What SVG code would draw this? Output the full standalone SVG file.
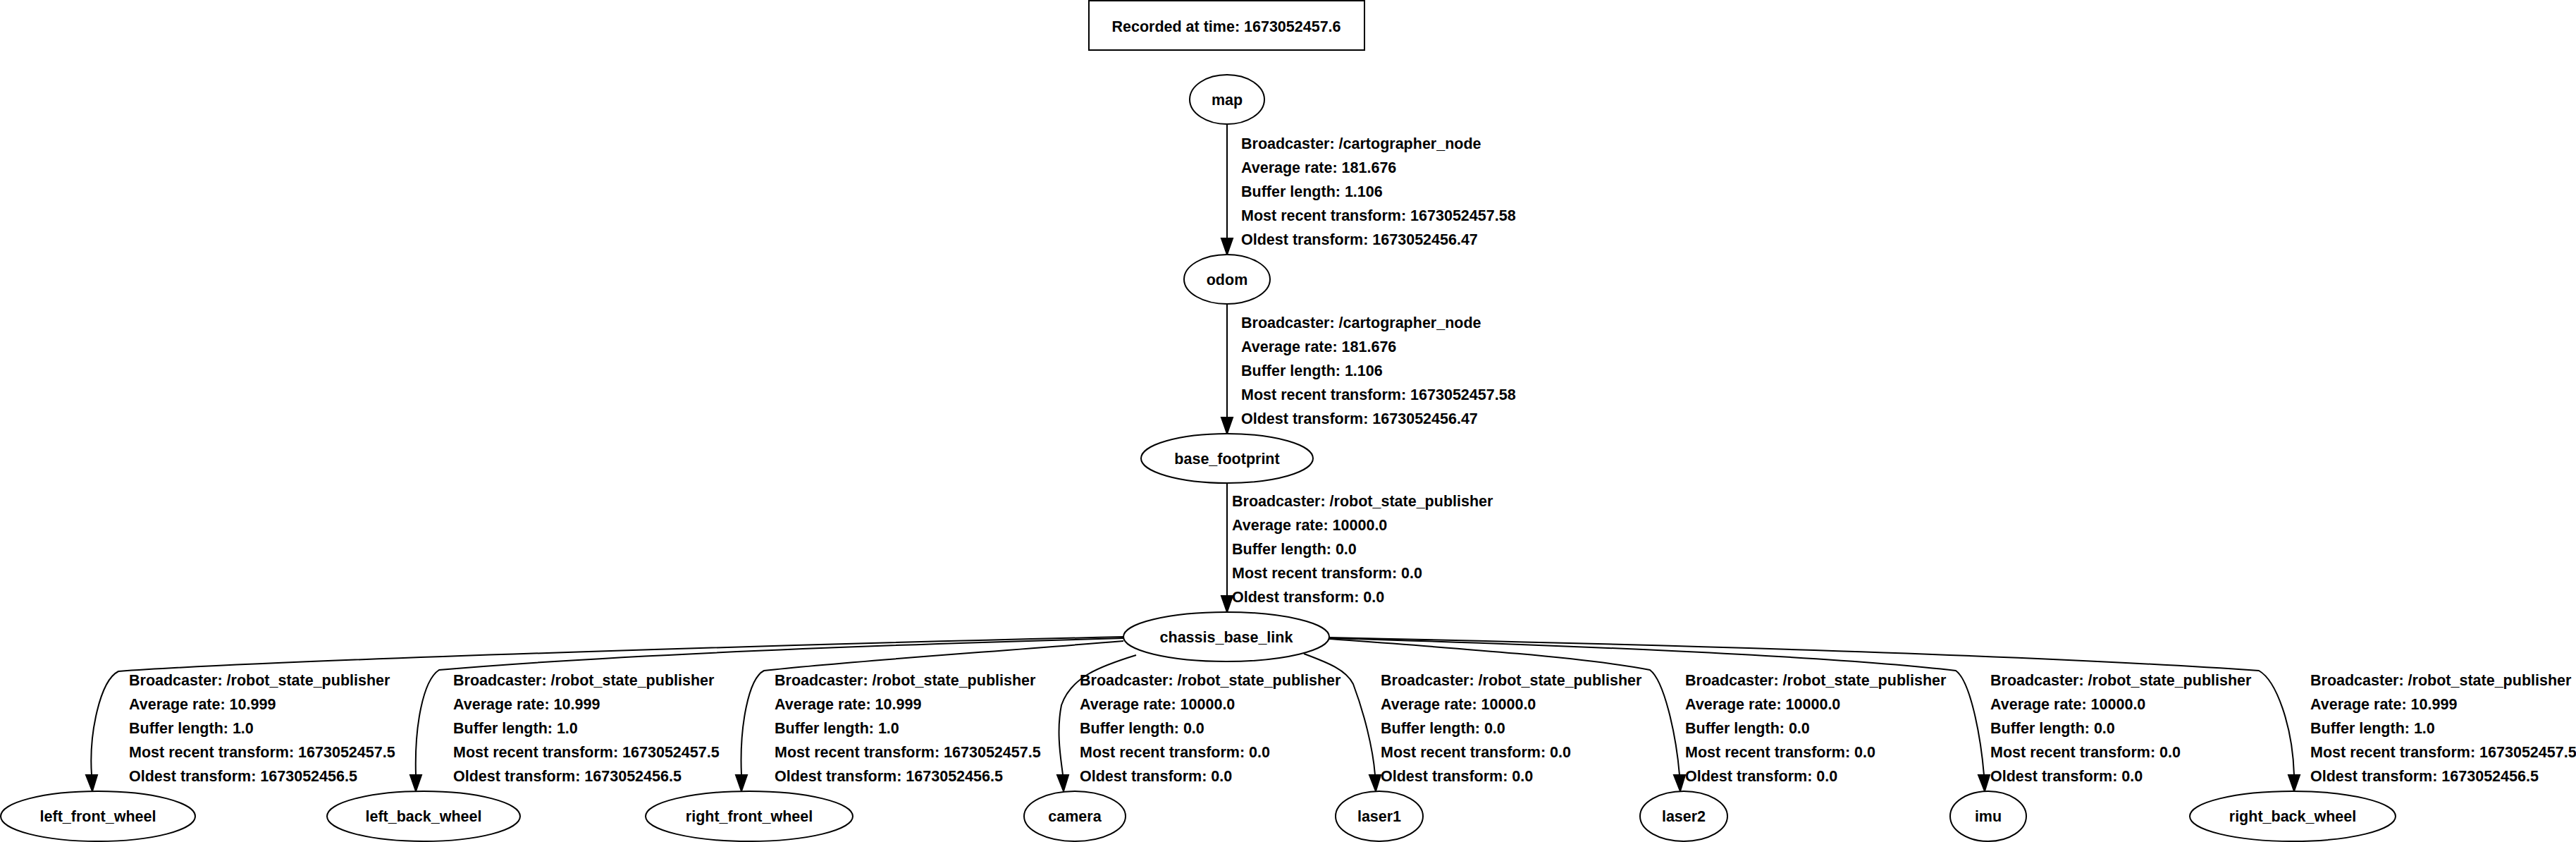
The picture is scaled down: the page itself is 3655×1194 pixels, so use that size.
<svg xmlns="http://www.w3.org/2000/svg" width="3655" height="1194" viewBox="0 0 3655 1194">
<defs>
<style>
text{font-family:"Liberation Sans",Arial,sans-serif;font-weight:bold;font-size:21.5px;fill:#000}
.n ellipse,.n rect{fill:#fff;stroke:#000;stroke-width:2}
.n text{text-anchor:middle}
.e path{fill:none;stroke:#000;stroke-width:2}
.e polygon{fill:#000;stroke:#000;stroke-width:2}
</style>
</defs>
<rect width="3655" height="1194" fill="#fff"/>
<g id="title" class="n"><rect x="1545" y="1" width="391" height="70"/><text x="1740" y="45">Recorded at time: 1673052457.6</text></g>
<g id="connectors" class="e">
<path d="M1741,176 L1741,338"/><polygon points="1733,338 1749,338 1741,361"/>
<path d="M1741,431 L1741,592"/><polygon points="1733,592 1749,592 1741,615"/>
<path d="M1741,684 L1741,845"/><polygon points="1733,845 1749,845 1741,868"/>
<path d="M1594,903 C1200,912 400,935 168,952 C142,965 126,1040 130,1099"/><polygon points="122,1099 138,1099 131,1122"/>
<path d="M1594,905 C1300,913 900,926 623,950 C600,965 588,1030 590,1099"/><polygon points="582,1099 598,1099 590,1122"/>
<path d="M1594,909 C1400,925 1200,938 1084,951 C1062,962 1049,1030 1052,1099"/><polygon points="1044,1099 1060,1099 1052,1122"/>
<path d="M1612,929 C1560,945 1520,960 1506,1000 C1498,1040 1506,1080 1508,1099"/><polygon points="1500,1099 1516,1099 1509,1122"/>
<path d="M1850,927 C1885,940 1910,950 1920,970 C1935,1010 1948,1060 1951,1099"/><polygon points="1943,1099 1959,1099 1952,1122"/>
<path d="M1886,906 C2050,918 2250,932 2341,950 C2361,965 2378,1040 2383,1099"/><polygon points="2375,1099 2391,1099 2384,1122"/>
<path d="M1886,905 C2200,914 2600,930 2775,951 C2795,965 2810,1040 2815,1099"/><polygon points="2807,1099 2823,1099 2816,1122"/>
<path d="M1886,904 C2400,915 2900,930 3205,951 C3230,965 3253,1030 3255,1099"/><polygon points="3247,1099 3263,1099 3255,1122"/>
</g>
<g id="labels">
<text x="1761" y="211">Broadcaster: /cartographer_node</text>
<text x="1761" y="245">Average rate: 181.676</text>
<text x="1761" y="279">Buffer length: 1.106</text>
<text x="1761" y="313">Most recent transform: 1673052457.58</text>
<text x="1761" y="347">Oldest transform: 1673052456.47</text>
<text x="1761" y="465">Broadcaster: /cartographer_node</text>
<text x="1761" y="499">Average rate: 181.676</text>
<text x="1761" y="533">Buffer length: 1.106</text>
<text x="1761" y="567">Most recent transform: 1673052457.58</text>
<text x="1761" y="601">Oldest transform: 1673052456.47</text>
<text x="1748" y="718">Broadcaster: /robot_state_publisher</text>
<text x="1748" y="752">Average rate: 10000.0</text>
<text x="1748" y="786">Buffer length: 0.0</text>
<text x="1748" y="820">Most recent transform: 0.0</text>
<text x="1748" y="854">Oldest transform: 0.0</text>
<text x="183" y="972">Broadcaster: /robot_state_publisher</text>
<text x="183" y="1006">Average rate: 10.999</text>
<text x="183" y="1040">Buffer length: 1.0</text>
<text x="183" y="1074">Most recent transform: 1673052457.5</text>
<text x="183" y="1108">Oldest transform: 1673052456.5</text>
<text x="643" y="972">Broadcaster: /robot_state_publisher</text>
<text x="643" y="1006">Average rate: 10.999</text>
<text x="643" y="1040">Buffer length: 1.0</text>
<text x="643" y="1074">Most recent transform: 1673052457.5</text>
<text x="643" y="1108">Oldest transform: 1673052456.5</text>
<text x="1099" y="972">Broadcaster: /robot_state_publisher</text>
<text x="1099" y="1006">Average rate: 10.999</text>
<text x="1099" y="1040">Buffer length: 1.0</text>
<text x="1099" y="1074">Most recent transform: 1673052457.5</text>
<text x="1099" y="1108">Oldest transform: 1673052456.5</text>
<text x="1532" y="972">Broadcaster: /robot_state_publisher</text>
<text x="1532" y="1006">Average rate: 10000.0</text>
<text x="1532" y="1040">Buffer length: 0.0</text>
<text x="1532" y="1074">Most recent transform: 0.0</text>
<text x="1532" y="1108">Oldest transform: 0.0</text>
<text x="1959" y="972">Broadcaster: /robot_state_publisher</text>
<text x="1959" y="1006">Average rate: 10000.0</text>
<text x="1959" y="1040">Buffer length: 0.0</text>
<text x="1959" y="1074">Most recent transform: 0.0</text>
<text x="1959" y="1108">Oldest transform: 0.0</text>
<text x="2391" y="972">Broadcaster: /robot_state_publisher</text>
<text x="2391" y="1006">Average rate: 10000.0</text>
<text x="2391" y="1040">Buffer length: 0.0</text>
<text x="2391" y="1074">Most recent transform: 0.0</text>
<text x="2391" y="1108">Oldest transform: 0.0</text>
<text x="2824" y="972">Broadcaster: /robot_state_publisher</text>
<text x="2824" y="1006">Average rate: 10000.0</text>
<text x="2824" y="1040">Buffer length: 0.0</text>
<text x="2824" y="1074">Most recent transform: 0.0</text>
<text x="2824" y="1108">Oldest transform: 0.0</text>
<text x="3278" y="972">Broadcaster: /robot_state_publisher</text>
<text x="3278" y="1006">Average rate: 10.999</text>
<text x="3278" y="1040">Buffer length: 1.0</text>
<text x="3278" y="1074">Most recent transform: 1673052457.5</text>
<text x="3278" y="1108">Oldest transform: 1673052456.5</text>
</g>
<g id="map" class="n"><ellipse cx="1741" cy="141" rx="53" ry="35"/><text x="1741" y="149">map</text></g>
<g id="odom" class="n"><ellipse cx="1741" cy="396" rx="61" ry="35"/><text x="1741" y="404">odom</text></g>
<g id="base_footprint" class="n"><ellipse cx="1741" cy="650" rx="122" ry="35"/><text x="1741" y="658">base_footprint</text></g>
<g id="chassis_base_link" class="n"><ellipse cx="1740" cy="903" rx="146" ry="35"/><text x="1740" y="911">chassis_base_link</text></g>
<g id="left_front_wheel" class="n"><ellipse cx="139" cy="1157.5" rx="138" ry="35.5"/><text x="139" y="1165">left_front_wheel</text></g>
<g id="left_back_wheel" class="n"><ellipse cx="601" cy="1157.5" rx="137" ry="35.5"/><text x="601" y="1165">left_back_wheel</text></g>
<g id="right_front_wheel" class="n"><ellipse cx="1063" cy="1157.5" rx="147" ry="35.5"/><text x="1063" y="1165">right_front_wheel</text></g>
<g id="camera" class="n"><ellipse cx="1525" cy="1157.5" rx="72" ry="35.5"/><text x="1525" y="1165">camera</text></g>
<g id="laser1" class="n"><ellipse cx="1957" cy="1157.5" rx="62" ry="35.5"/><text x="1957" y="1165">laser1</text></g>
<g id="laser2" class="n"><ellipse cx="2389" cy="1157.5" rx="62" ry="35.5"/><text x="2389" y="1165">laser2</text></g>
<g id="imu" class="n"><ellipse cx="2821" cy="1157.5" rx="54" ry="35.5"/><text x="2821" y="1165">imu</text></g>
<g id="right_back_wheel" class="n"><ellipse cx="3253" cy="1157.5" rx="146" ry="35.5"/><text x="3253" y="1165">right_back_wheel</text></g>
</svg>
